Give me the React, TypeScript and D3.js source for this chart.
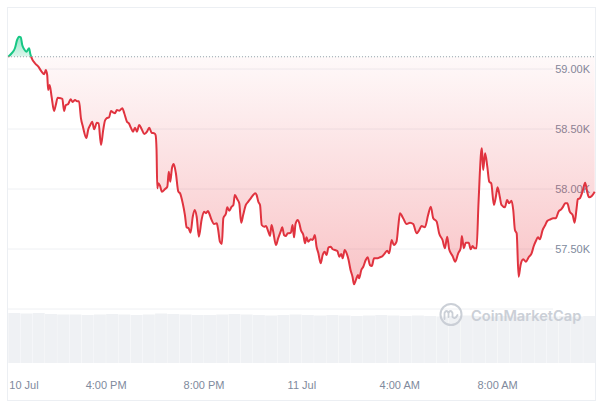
import React from "react";
import * as d3 from "d3";

// hours since 10 Jul 12:00 PM
const hours = [0,0.16,0.27,0.36,0.44,0.51,0.57,0.65,0.74,0.85,0.9,0.96,1.09,1.23,1.36,1.47,1.53,1.59,1.63,1.69,1.77,1.87,1.94,2.02,2.14,2.21,2.28,2.35,2.45,2.55,2.63,2.73,2.81,2.89,2.97,3.05,3.19,3.27,3.35,3.43,3.51,3.62,3.69,3.79,3.88,3.95,4.02,4.12,4.2,4.28,4.36,4.44,4.54,4.66,4.74,4.85,4.93,5.01,5.1,5.18,5.26,5.35,5.45,5.56,5.67,5.76,5.86,5.97,6.02,6.06,6.09,6.13,6.2,6.28,6.4,6.5,6.56,6.62,6.69,6.76,6.85,6.95,7.02,7.13,7.22,7.29,7.37,7.45,7.54,7.62,7.7,7.79,7.9,8.0,8.08,8.16,8.21,8.31,8.41,8.52,8.58,8.65,8.73,8.79,8.9,8.95,9.03,9.13,9.2,9.26,9.36,9.44,9.52,9.6,9.71,9.81,9.91,10.01,10.09,10.15,10.22,10.29,10.36,10.46,10.53,10.63,10.7,10.76,10.83,10.94,11.03,11.13,11.2,11.27,11.35,11.42,11.48,11.55,11.62,11.68,11.74,11.83,11.89,11.96,12.06,12.13,12.19,12.26,12.36,12.44,12.53,12.6,12.67,12.77,12.85,12.93,13.01,13.09,13.18,13.26,13.35,13.45,13.53,13.61,13.67,13.75,13.83,13.91,13.99,14.07,14.13,14.21,14.29,14.34,14.43,14.51,14.61,14.69,14.78,14.86,14.95,15.06,15.19,15.3,15.39,15.49,15.57,15.67,15.76,15.87,15.94,16.01,16.14,16.28,16.42,16.55,16.69,16.8,16.89,17.03,17.16,17.27,17.37,17.51,17.61,17.75,17.85,17.94,18.02,18.16,18.27,18.39,18.49,18.54,18.62,18.7,18.82,18.9,18.98,19.06,19.14,19.22,19.33,19.36,19.41,19.49,19.58,19.66,19.74,19.85,19.93,20.0,20.09,20.16,20.3,20.39,20.47,20.57,20.64,20.71,20.78,20.86,20.94,21.05,21.16,21.27,21.39,21.48,21.57,21.65,21.73,21.84,21.95,22.03,22.17,22.27,22.38,22.49,22.6,22.68,22.76,22.85,22.95,23.07,23.15,23.23,23.28,23.36,23.47,23.58,23.66,23.74,23.85,23.97];

const prices = [59102,59136,59173,59242,59269,59264,59200,59164,59144,59173,59125,59089,59048,59019,58978,58956,58992,58950,58825,58867,58769,58650,58700,58761,58756,58750,58650,58698,58708,58748,58725,58742,58731,58731,58589,58519,58425,58498,58533,58561,58498,58552,58547,58367,58492,58569,58589,58598,58650,58639,58631,58658,58653,58673,58631,58561,58547,58511,58478,58511,58478,58533,58500,58458,58478,58511,58469,58464,58450,58325,58006,58048,58028,57978,57998,58019,58144,58061,58173,58208,58131,57978,57964,57881,57783,57681,57673,57636,57769,57825,57769,57603,57742,57811,57798,57817,57798,57742,57708,57714,57658,57561,57542,57756,57798,57848,57819,57853,57867,57950,57914,57881,57719,57783,57867,57894,57922,57950,57964,57950,57894,57867,57700,57686,57692,57644,57608,57700,57644,57533,57589,57644,57681,57617,57608,57631,57631,57636,57700,57597,57708,57742,57719,57658,57617,57548,57597,57561,57581,57575,57617,57519,57469,57381,57450,57478,57450,57514,57519,57498,57492,57483,57436,57458,57422,57492,57464,57408,57325,57269,57206,57242,57283,57256,57325,57352,57408,57431,57367,57358,57422,57422,57431,57442,57464,57486,57464,57575,57533,57561,57686,57798,57756,57708,57719,57708,57631,57658,57692,57681,57783,57853,57756,57728,57631,57575,57506,57603,57498,57442,57394,57464,57506,57608,57506,57553,57553,57498,57525,57506,57506,57881,58311,58339,58158,58298,58186,58061,58048,57867,57936,58014,57936,57867,57848,57908,57881,57902,57825,57658,57631,57269,57367,57414,57394,57431,57464,57525,57569,57597,57581,57658,57700,57733,57748,57756,57756,57811,57831,57853,57881,57881,57811,57783,57719,57839,57914,57922,57978,58052,57978,57931,57942,57978];

const openPrice = 59102;

// 30-minute volume bars (relative units)
const volumes = [100,99,100,98,97,97,96,97,98,97,96,97,99,98,97,96,96,97,98,97,96,95,96,97,96,95,96,95,94,95,96,95,94,95,94,93,94,95,94,93,94,93,94,94,93,94,93,94];

const yTicks = [59000, 58500, 58000, 57500];
const yTickLabels = ["59.00K", "58.50K", "58.00K", "57.50K"];
const gridOnly = [57000];

const xTickHours = [0, 4, 8, 12, 16, 20];
const xTickLabels = ["10 Jul", "4:00 PM", "8:00 PM", "11 Jul", "4:00 AM", "8:00 AM"];

const W = 600, H = 401;

export default function App() {
  const start = new Date(2024, 6, 10, 12, 0);
  const toDate = (h: number) => new Date(start.getTime() + h * 3600000);
  const data = hours.map((h, i) => ({ t: toDate(h), v: prices[i] }));

  const x = d3.scaleTime().domain([toDate(0), toDate(23.97)]).range([8.3, 594.7]);
  const y = d3.scaleLinear().domain([57000, 59000]).range([309, 69]);
  const yv = d3.scaleLinear().domain([0, 100]).range([363, 313]);

  const yBase = y(openPrice);
  const line = d3.line<{ t: Date; v: number }>().x(d => x(d.t)).y(d => y(d.v)).curve(d3.curveMonotoneX);
  const area = d3.area<{ t: Date; v: number }>().x(d => x(d.t)).y0(yBase).y1(d => y(d.v)).curve(d3.curveMonotoneX);
  const linePath = line(data) || "";
  const areaPath = area(data) || "";
  const yMin = y(d3.min(prices) as number);
  const yMax = y(d3.max(prices) as number);

  const barW = x(toDate(0.5)) - x(toDate(0));
  const font = "'Liberation Sans', Arial, sans-serif";
  const labelColor = "#808a9d";

  return (
    <svg width={W} height={H} style={{ position: "absolute", left: 0, top: 0, background: "#fff" }}>
      <defs>
        <clipPath id="above"><rect x={0} y={0} width={W} height={yBase} /></clipPath>
        <clipPath id="below"><rect x={0} y={yBase} width={W} height={H - yBase} /></clipPath>
        <linearGradient id="redGrad" gradientUnits="userSpaceOnUse" x1={0} y1={yBase} x2={0} y2={yMin}>
          <stop offset="0" stopColor="#ea3943" stopOpacity={0.03} />
          <stop offset="1" stopColor="#ea3943" stopOpacity={0.3} />
        </linearGradient>
        <linearGradient id="greenGrad" gradientUnits="userSpaceOnUse" x1={0} y1={yBase} x2={0} y2={yMax}>
          <stop offset="0" stopColor="#16c784" stopOpacity={0.15} />
          <stop offset="1" stopColor="#16c784" stopOpacity={0.45} />
        </linearGradient>
      </defs>

      {/* frame */}
      <rect x={7.5} y={7.5} width={588} height={393} fill="none" stroke="#eceff3" strokeWidth={1} />

      {/* volume */}
      {volumes.map((v, i) => (
        <rect key={i} x={x(toDate(i * 0.5))} y={yv(v)} width={Math.max(0, Math.min(barW - 0.3, 595 - x(toDate(i * 0.5))))} height={363 - yv(v)} fill="#eff1f4" />
      ))}

      {/* grid */}
      {yTicks.concat(gridOnly).map((t, i) => (
        <line key={i} x1={8} x2={553} y1={y(t)} y2={y(t)} stroke="#eef0f3" strokeWidth={1} />
      ))}

      {/* watermark */}
      <g opacity={0.9}>
        <circle cx={451} cy={314.5} r={10.5} fill="none" stroke="#c6cbd3" strokeWidth={2} />
        <path d="M444.5,319 L444.5,313 Q446.5,309 448.5,313 L448.5,317 M448.5,313 Q450.5,309 452.5,313 L452.5,317 Q455,320 457.5,315" fill="none" stroke="#c6cbd3" strokeWidth={1.8} strokeLinecap="round" strokeLinejoin="round" />
        <text x={471} y={320.5} fontFamily="Inter, 'Open Sans', sans-serif" fontSize={14.6} fontWeight={600} fill="#c6cbd3">CoinMarketCap</text>
      </g>

      {/* y labels */}
      {yTicks.map((t, i) => (
        <text key={i} x={590} y={y(t)} dy="0.35em" textAnchor="end" fontFamily={font} fontSize={11} fill={labelColor}>{yTickLabels[i]}</text>
      ))}

      {/* areas */}
      <path d={areaPath} fill="url(#greenGrad)" clipPath="url(#above)" />
      <path d={areaPath} fill="url(#redGrad)" clipPath="url(#below)" />

      {/* baseline dotted */}
      <line x1={8} x2={595} y1={yBase} y2={yBase} stroke="#9aa1ad" strokeWidth={1} strokeDasharray="1 2" />

      {/* lines */}
      <path d={linePath} fill="none" stroke="#16c784" strokeWidth={2} clipPath="url(#above)" strokeLinejoin="round" />
      <path d={linePath} fill="none" stroke="#e0333f" strokeWidth={2} clipPath="url(#below)" strokeLinejoin="round" />

      {/* x labels */}
      {xTickHours.map((h, i) => (
        <text key={i} x={i === 0 ? x(toDate(h)) + 1 : x(toDate(h))} y={389} textAnchor={i === 0 ? "start" : "middle"} fontFamily={font} fontSize={11} fill={labelColor}>{xTickLabels[i]}</text>
      ))}
    </svg>
  );
}
